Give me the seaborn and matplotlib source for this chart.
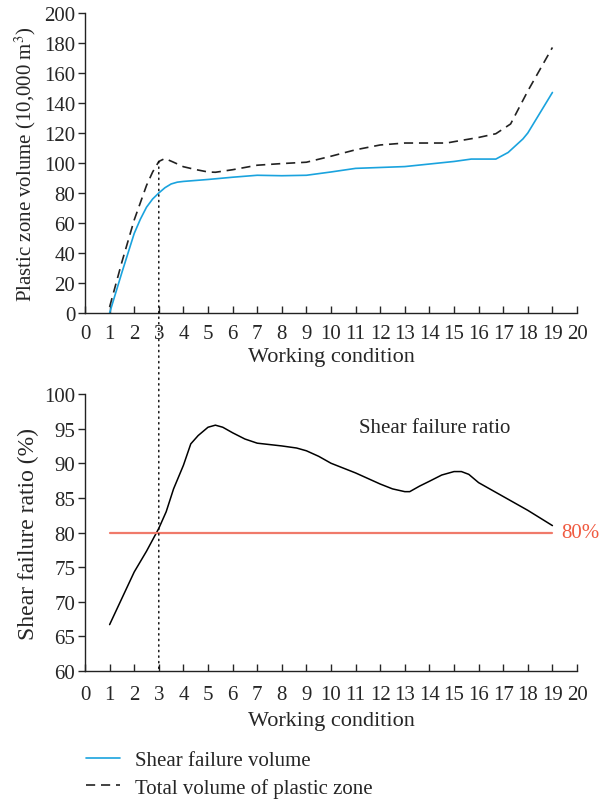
import numpy as np
import pandas as pd
import matplotlib
matplotlib.use("Agg")
import matplotlib.pyplot as plt
import seaborn as sns
from matplotlib.patches import ConnectionPatch

# -------------------
# Data
vol_x = [1, 1.5, 2, 2.25, 2.5, 2.75, 3, 3.25, 3.5, 3.75, 4, 5, 6, 7, 8, 9, 10, 11, 12, 13, 14, 15,
         15.7, 16.7, 17.2, 17.8, 18, 19]
shear_vol = [0, 27, 53, 62.5, 70.5, 76, 80, 83.5, 86, 87.2, 87.7, 89, 90.5, 91.8, 91.5, 91.8, 94,
             96.4, 97, 97.6, 99.3, 101, 102.6, 102.6, 107, 116, 120, 147]

tot_x = [1, 1.5, 2, 2.5, 2.75, 3, 3.25, 3.6, 4, 4.5, 5, 5.3, 6, 7, 8, 9, 10, 11, 12, 13, 14, 14.7,
         15, 16, 16.7, 17.3, 18, 19]
total_vol = [4, 34, 62, 85, 94, 101, 103, 100.5, 97.5, 95.6, 94, 93.8, 95.5, 98.5, 99.6, 100.5,
             104.5, 108.8, 112, 113.3, 113.3, 113.3, 114.2, 117, 119.5, 126, 148, 177]

ratio_x = [1, 2, 2.5, 3, 3.3, 3.6, 4, 4.3, 4.6, 5, 5.3, 5.6, 6, 6.5, 7, 8, 8.6, 9, 9.5, 10, 11, 11.5,
           12, 12.5, 13, 13.2, 13.6, 14, 14.5, 15, 15.3, 15.6, 16, 17, 18, 19]
ratio = [66.7, 74.3, 77.3, 80.6, 83, 86.3, 89.7, 92.8, 94, 95.2, 95.5, 95.2, 94.4, 93.5, 92.9,
         92.5, 92.2, 91.8, 91, 90, 88.6, 87.8, 87, 86.3, 85.9, 85.9, 86.7, 87.4, 88.3, 88.8,
         88.8, 88.4, 87.2, 85.2, 83.2, 81]

limit_x = [1, 19]
limit_y = [80, 80]

x_ticks = list(range(0, 21))
vol_ticks = list(range(0, 201, 20))
ratio_ticks = list(range(60, 101, 5))

BLUE = "#1aa3de"
RED = "#f07a6a"

# -------------------
sns.set_style("ticks")
plt.rcParams['font.family'] = ['Liberation Serif', 'DejaVu Serif']
plt.rcParams['mathtext.fontset'] = 'stix'
plt.rcParams['font.size'] = 15

fig = plt.figure(figsize=(6.02, 8.03), dpi=100)
ax1 = fig.add_axes([0.1412, 0.6090, 0.8173, 0.3736])
ax2 = fig.add_axes([0.1412, 0.1631, 0.8173, 0.3450])

LAB = 16
TICK = 15

# top panel
sns.lineplot(x=vol_x, y=shear_vol, ax=ax1, color=BLUE, lw=1.2, label="Shear failure volume")
sns.lineplot(x=tot_x, y=total_vol, ax=ax1, color="#222222", lw=1.2, dashes=False,
             label="Total volume of plastic zone")
ax1.lines[1].set_dashes([5.5, 3.5])
ax1.set_xlim(0, 20)
ax1.set_ylim(0, 200)
ax1.set_xticks(x_ticks)
ax1.set_yticks(vol_ticks)
ax1.set_xlabel("Working condition", fontsize=LAB, labelpad=3)
ax1.set_ylabel("Plastic zone volume (10,000 m$^3$)", fontsize=15, labelpad=4)

# bottom panel
sns.lineplot(x=ratio_x, y=ratio, ax=ax2, color="black", lw=1.1)
sns.lineplot(x=limit_x, y=limit_y, ax=ax2, color=RED, lw=1.6)
ax2.text(19.35, 80, "80%", color="#f05a40", fontsize=TICK, va="center", ha="left", clip_on=False)
ax2.text(14.2, 95.1, "Shear failure ratio", fontsize=TICK, ha="center", va="center")
ax2.set_xlim(0, 20)
ax2.set_ylim(60, 100)
ax2.set_xticks(x_ticks)
ax2.set_yticks(ratio_ticks)
ax2.set_xlabel("Working condition", fontsize=LAB, labelpad=5)
ax2.set_ylabel("Shear failure ratio (%)", fontsize=17, labelpad=4)

for ax in (ax1, ax2):
    sns.despine(ax=ax)
    ax.tick_params(axis="x", direction="in", length=5, width=1, pad=8, labelsize=TICK)
    ax.tick_params(axis="y", direction="out", length=5, width=1, pad=2, labelsize=TICK)
    for s in ("left", "bottom"):
        ax.spines[s].set_linewidth(1)
        ax.spines[s].set_color("#222222")
ax2.tick_params(axis="x", pad=10)

# dotted guide at condition 3 spanning both panels
con = ConnectionPatch(xyA=(3, 101), coordsA=ax1.transData, xyB=(3, 60), coordsB=ax2.transData,
                      linestyle=(0, (1, 3)), color="black", lw=1.0)
fig.add_artist(con)

handles, labels = ax1.get_legend_handles_labels()
ax1.get_legend().remove()
fig.legend(handles, labels, loc="lower left", bbox_to_anchor=(0.1215, -0.010), frameon=False,
           fontsize=TICK, handlelength=1.65, handletextpad=0.72, labelspacing=0.35,
           borderaxespad=0.2)

fig.savefig("out.png", dpi=100)
